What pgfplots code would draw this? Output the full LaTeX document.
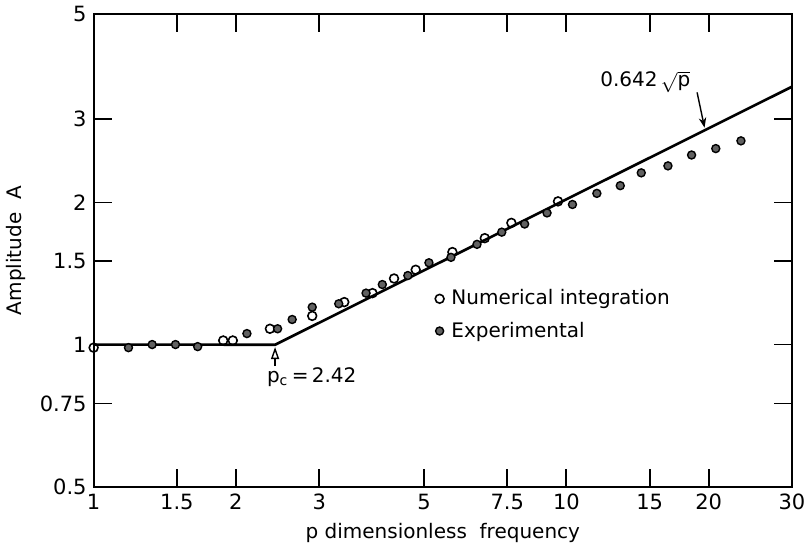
\documentclass[border=0pt]{standalone}
\usepackage{fontspec}
\setmainfont{DejaVu Sans}
\usepackage{pgfplots}
\pgfplotsset{compat=1.18}
\usetikzlibrary{arrows.meta}
\begin{document}
\begin{tikzpicture}
\begin{axis}[
    scale only axis,
    width=349pt,
    height=236pt,
    xmode=log,
    ymode=log,
    xmin=1, xmax=30,
    ymin=0.5, ymax=5,
    xtick={1,1.5,2,3,5,7.5,10,15,20,30},
    xticklabels={1,1.5,2,3,5,7.5,10,15,20,30},
    ytick={0.5,0.75,1,1.5,2,3,5},
    yticklabels={0.5,0.75,1,1.5,2,3,5},
    xminorticks=false,
    yminorticks=false,
    tick align=inside,
    major tick length=9pt,
    axis line style={line width=1pt},
    every tick/.style={black, line width=0.9pt},
    /pgf/number format/assume math mode=true,
    ticklabel style={font=\fontsize{10.5}{12}\selectfont},
    label style={font=\fontsize{10}{12}\selectfont},
    xlabel={p dimensionless\ \ frequency},
    ylabel={Amplitude\ \ A},
    legend style={at={(0.48,0.435)}, anchor=north west, draw=none, fill=none,
        font=\fontsize{10}{12}\selectfont, row sep=3pt},
    legend cell align=left,
]
    % theory: A = 1 below p_c, A = 0.642 sqrt(p) above
    \addplot[black, line width=1.3pt, forget plot] coordinates {
        (1,1) (2.42,0.999) (30,3.516)
    };

    \addplot[only marks, mark=o, mark size=2.2pt, line width=0.8pt,
        mark options={fill=white}] coordinates {
        (1,0.985) (1.88,1.02) (1.97,1.02) (2.36,1.08) (2.9,1.15)
        (3.39,1.23) (3.89,1.285) (4.32,1.38) (4.8,1.44) (5.74,1.57)
        (6.72,1.68) (7.65,1.81) (9.6,2.01)
    };
    \addlegendentry{\,Numerical integration}

    \addplot[only marks, mark=*, mark size=2pt, line width=0.7pt,
        mark options={draw=black, fill=black!62}] coordinates {
        (1.185,0.985) (1.33,1.0) (1.49,1.0) (1.66,0.99) (2.11,1.055)
        (2.45,1.08) (2.63,1.13) (2.9,1.2) (3.3,1.22) (3.77,1.285)
        (4.08,1.34) (4.62,1.40) (5.12,1.49) (5.7,1.53) (6.47,1.63)
        (7.3,1.73) (8.16,1.80) (9.1,1.90) (10.3,1.98) (11.6,2.09)
        (13.0,2.17) (14.4,2.31) (16.4,2.39) (18.4,2.52) (20.7,2.60)
        (23.4,2.70)
    };
    \addlegendentry{\,Experimental}

    \node[anchor=west, font=\fontsize{10}{12}\selectfont] at (axis cs:11.4,3.6)
        {0.642\,$\sqrt{\mbox{p}}$};
    \draw[-{Stealth[length=5pt]}, line width=0.7pt]
        (axis cs:18.9,3.42) -- (axis cs:19.6,2.88);
    \node[anchor=north west, font=\fontsize{10}{12}\selectfont, inner sep=1pt]
        at (axis cs:2.3,0.905) {p$_{\mbox{\fontsize{7}{8}\selectfont c}}$\,=\,2.42};
    \draw[-{Triangle[open, length=6pt, width=4pt]}, line width=0.7pt]
        (axis cs:2.42,0.90) -- (axis cs:2.42,0.988);
\end{axis}
\end{tikzpicture}
\end{document}
